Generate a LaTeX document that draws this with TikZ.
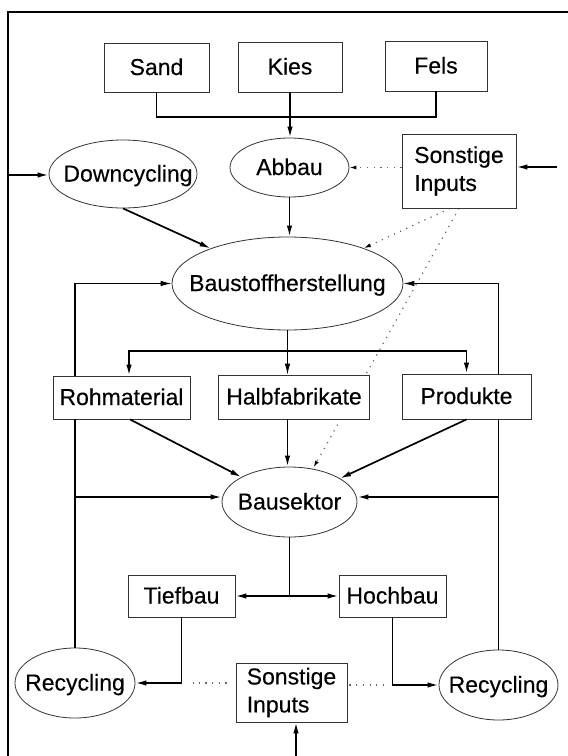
\documentclass[tikz,border=0pt]{standalone}
\usepackage{fontspec}
\setmainfont{Liberation Sans}[BoldFont={Liberation Sans},BoldFeatures={FakeBold=0.3}]
\usetikzlibrary{shapes.geometric,arrows.meta,calc}
\pgfdeclarelayer{bg}
\pgfsetlayers{bg,main}
\begin{document}
\begin{tikzpicture}[x=1pt,y=-1pt,
  font=\fontsize{23}{28}\selectfont\bfseries,
  box/.style={draw=black!80,fill=white,line width=0.8pt,rectangle,inner sep=0pt,text height=15pt,text depth=0pt},
  boxtwo/.style={draw=black!80,fill=white,line width=0.8pt,rectangle,inner sep=0pt,align=left},
  ell/.style={draw=black!80,fill=white,line width=0.8pt,ellipse,inner sep=0pt,text height=15pt,text depth=0pt},
  tip/.style={-{Latex[length=11pt,width=5.5pt]}},
  flow/.style={line width=1.7pt,tip},
  link/.style={line width=1.7pt},
  thinlink/.style={line width=1.1pt},
  dots/.style={draw=black!60,line width=1.2pt,dash pattern=on 1.2pt off 5.5pt},
  dotarrow/.style={dots,-{Latex[length=7pt,width=4pt,color=black]}},
  frame/.style={line width=1.6pt}
  ]
\useasboundingbox (0,0) rectangle (568,756);

% frame
\coordinate (fbl) at (8,756);
\coordinate (ftl) at (8,12);
\coordinate (ftr) at (568,12);
\draw[frame] (fbl) -- (ftl) -- (ftr);

% nodes
\node[box,minimum width=105pt,minimum height=49pt] (sand) at (156.5,67.5) {Sand};
\node[box,minimum width=104pt,minimum height=50pt] (kies) at (290,67) {Kies};
\node[box,minimum width=102pt,minimum height=50pt] (fels) at (436,66) {Fels};
\node[ell,minimum width=119pt,minimum height=59pt] (abbau) at (289.5,167.5) {\makebox[0pt]{Abbau}};
\node[ell,minimum width=148pt,minimum height=68pt] (down) at (123,174) {\makebox[0pt]{\hspace{10pt}Downcycling}};
\node[boxtwo,minimum width=114pt,minimum height=74pt] (sonst) at (459,171) {Sonstige\\Inputs};
\node[ell,minimum width=231pt,minimum height=93pt] (baust) at (287.5,283.5) {\makebox[0pt]{Baustoffherstellung}};
\node[box,minimum width=137pt,minimum height=43pt] (roh) at (121.5,397.5) {Rohmaterial};
\node[box,minimum width=151pt,minimum height=44pt] (halb) at (294,397) {Halbfabrikate};
\node[box,minimum width=129pt,minimum height=45pt] (prod) at (466.5,396.5) {Produkte};
\node[ell,minimum width=135pt,minimum height=70pt] (bsek) at (289.5,502) {\makebox[0pt]{Bausektor}};
\node[box,minimum width=107pt,minimum height=42pt] (tief) at (181.5,596) {Tiefbau};
\node[box,minimum width=107pt,minimum height=42pt] (hoch) at (392.5,596) {Hochbau};
\node[ell,minimum width=120pt,minimum height=70pt] (recl) at (75,683) {\makebox[0pt]{Recycling}};
\node[ell,minimum width=119pt,minimum height=70pt] (recr) at (498.5,685) {\makebox[0pt]{Recycling}};
\node[boxtwo,minimum width=111pt,minimum height=59pt] (sonstb) at (291.5,692.5) {Sonstige\\Inputs};

% helper coordinates
\coordinate (jtop) at (289,117);
\coordinate (lf) at (8,175);
\coordinate (rf) at (557,167);
\coordinate (jb) at (287.5,351);
\coordinate (bf) at (296,756);

% raw materials to Abbau
\draw[link] (sand.south) |- (jtop) -| (fels.south);
\draw[flow] (kies.south) -- (kies.south |- abbau.north);

% inputs
\draw[flow] (lf) -- (down.west |- lf);
\draw[flow] (rf) -- (sonst.east |- rf);
\draw[dotarrow] (sonst.west |- abbau.east) -- (abbau.east);

% into Baustoffherstellung
\draw[flow] (down.south) -- (baust);
\draw[flow] (abbau.south) -- (abbau.south |- baust.north);
\begin{pgfonlayer}{bg}
\draw[dotarrow] ($(sonst.south west)!0.42!(sonst.south east)$) -- (baust);
\draw[dotarrow] ($(sonst.south west)!0.5!(sonst.south east)$) -- ($(bsek.north)+(24,1)$);
\end{pgfonlayer}

% branch from Baustoffherstellung
\draw[thinlink] (baust.south) -- (jb);
\draw[flow] (jb) -| ($(roh.north)+(7.5,0)$);
\draw[flow] (jb) -| (prod.north);
\draw[flow,line width=1.1pt] (jb) -- (jb |- halb.north);

% into Bausektor
\draw[flow] ($(roh.south)+(8.5,0)$) -- (bsek);
\draw[flow] (jb |- halb.south) -- (jb |- bsek.north);
\draw[flow] (prod.south) -- (bsek);

% Bausektor to Tief/Hochbau
\coordinate (jm) at (bsek.south |- tief.east);
\draw[link] (bsek.south) -- (jm);
\draw[flow] (jm) -- (tief.east);
\draw[flow] (jm) -- (hoch.west);
\draw[flow] (tief.south) |- (recl.east);
\draw[flow] (hoch.south) |- (recr.west);

% recycling loops
\draw[thinlink] (recl.north) -- (recl.north |- roh.south);
\draw[thinlink,tip] (recl.north |- roh.north) |- (baust.west);
\draw[flow] ($(recl.north |- bsek.west)+(0,-5)$) -- ($(bsek.west)+(0,-5)$);
\draw[thinlink] (recr.north) -- (recr.north |- prod.south);
\draw[thinlink,tip] (recr.north |- prod.north) |- (baust.east);
\draw[flow] ($(recr.north |- bsek.east)+(0,-5)$) -- ($(bsek.east)+(0,-5)$);

% bottom other inputs
\draw[flow] (bf) -- (sonstb.south -| bf);
\draw[dots,shorten <=9pt,shorten >=11pt] (sonstb.west |- recl.east) -- (tief.south |- recl.east);
\draw[dots,shorten <=2pt,shorten >=9pt] (sonstb.east |- recr.west) -- (hoch.south |- recr.west);
\end{tikzpicture}
\end{document}
